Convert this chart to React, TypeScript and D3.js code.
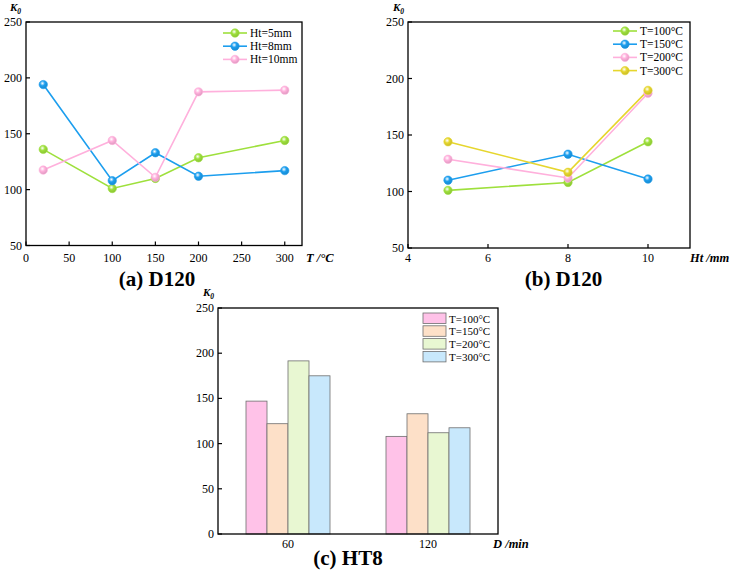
import React from "react";
import * as d3 from "d3";

// (a) K0 vs temperature, D120
const tempX = [20, 100, 150, 200, 300];
const ht5 = [136, 101, 110, 128.5, 144];
const ht8 = [194, 108, 133, 112, 117];
const ht10 = [117.5, 144, 111, 187.5, 189];
const aLabels = ["Ht=5mm", "Ht=8mm", "Ht=10mm"];
const aTicksX = [0, 50, 100, 150, 200, 250, 300];

// (b) K0 vs Ht, D120
const htX = [5, 8, 10];
const t100 = [101, 108, 144];
const t150 = [110, 133, 111];
const t200 = [128.5, 112, 187];
const t300 = [144, 117, 189.5];
const bLabels = ["T=100°C", "T=150°C", "T=200°C", "T=300°C"];
const bTicksX = [4, 6, 8, 10];

// (c) K0 vs duration, HT8
const durations = ["60", "120"];
const barT100 = [147, 108];
const barT150 = [122, 133];
const barT200 = [191.5, 112];
const barT300 = [175, 117.5];
const cLabels = ["T=100°C", "T=150°C", "T=200°C", "T=300°C"];

const yTicks = [50, 100, 150, 200, 250];
const yTicksC = [0, 50, 100, 150, 200, 250];

const green = "#9ee03c";
const blue = "#1c9eee";
const pink = "#ffb0dc";
const yellow = "#e6d62e";
const barColors = ["#ffc2e8", "#fde0c8", "#e8f7d2", "#c8e8fc"];

const serif = "'Liberation Serif', 'Times New Roman', serif";

type Series = { label: string; color: string; values: number[] };

function Marker({ cx, cy, color, id }: { cx: number; cy: number; color: string; id: string }) {
  return <circle cx={cx} cy={cy} r={4.2} fill={`url(#${id})`} stroke={color} strokeWidth={0.6} />;
}

function K0({ x, y }: { x: number; y: number }) {
  return (
    <text x={x} y={y} fontSize={11} fontStyle="italic" fontWeight="bold" fontFamily={serif}>
      K<tspan fontSize={7.5} dy={2.5}>0</tspan>
    </text>
  );
}

function LineChart(props: {
  x0: number; x1: number; y0: number; y1: number;
  xDomain: [number, number]; xs: number[]; xTicks: number[];
  series: Series[]; legendX: number; legendY: number;
  xLabel: React.ReactNode; xLabelX: number; prefix: string;
  k0X: number; labelY: number;
}) {
  const { x0, x1, y0, y1, xDomain, xs, xTicks, series, legendX, legendY, prefix, labelY } = props;
  const x = d3.scaleLinear().domain(xDomain).range([x0, x1]);
  const y = d3.scaleLinear().domain([50, 250]).range([y1, y0]);
  const line = d3.line<number>().x((_, i) => x(xs[i])).y((d) => y(d));
  return (
    <g fontFamily={serif}>
      <defs>
        {series.map((s, i) => (
          <radialGradient key={i} id={`${prefix}g${i}`} cx="0.4" cy="0.35" r="0.65">
            <stop offset="0" stopColor="#ffffff" />
            <stop offset="0.45" stopColor={s.color} />
            <stop offset="1" stopColor={d3.color(s.color)!.darker(0.4).toString()} />
          </radialGradient>
        ))}
      </defs>
      <rect x={x0} y={y0} width={x1 - x0} height={y1 - y0} fill="none" stroke="#000" strokeWidth={1.3} />
      {xTicks.map((t) => (
        <g key={t}>
          <line x1={x(t)} x2={x(t)} y1={y1} y2={y1 - 4} stroke="#000" strokeWidth={1.2} />
          <text x={x(t)} y={labelY} textAnchor="middle" fontSize={12}>{t}</text>
        </g>
      ))}
      {yTicks.map((t) => (
        <g key={t}>
          <line x1={x0} x2={x0 + 4} y1={y(t)} y2={y(t)} stroke="#000" strokeWidth={1.2} />
          <text x={x0 - 4} y={y(t) + 4} textAnchor="end" fontSize={12}>{t}</text>
        </g>
      ))}
      {series.map((s, i) => (
        <path key={i} d={line(s.values) ?? ""} fill="none" stroke={s.color} strokeWidth={1.6} />
      ))}
      {series.map((s, i) =>
        s.values.map((v, j) => (
          <Marker key={`${i}-${j}`} cx={x(xs[j])} cy={y(v)} color={s.color} id={`${prefix}g${i}`} />
        ))
      )}
      {series.map((s, i) => (
        <g key={i} transform={`translate(${legendX},${legendY + i * 13.2})`}>
          <line x1={0} x2={24} y1={0} y2={0} stroke={s.color} strokeWidth={1.6} />
          <Marker cx={12} cy={0} color={s.color} id={`${prefix}g${i}`} />
          <text x={27} y={4} fontSize={11.5}>{s.label}</text>
        </g>
      ))}
      <K0 x={props.k0X} y={11} />
      <text x={props.xLabelX} y={labelY} fontSize={12.5} fontStyle="italic" fontWeight="bold">{props.xLabel}</text>
    </g>
  );
}

function BarChart() {
  const x0 = 218, x1 = 498, y0 = 308, y1 = 534;
  const x = d3.scaleBand().domain(durations).range([x0, x1]).paddingInner(0.4).paddingOuter(0.2);
  const sub = d3.scaleBand().domain(cLabels).range([0, x.bandwidth()]);
  const y = d3.scaleLinear().domain([0, 250]).range([y1, y0]);
  const groups = [barT100, barT150, barT200, barT300];
  return (
    <g fontFamily={serif}>
      {groups.map((vals, k) =>
        vals.map((v, i) => (
          <rect key={`${k}-${i}`} x={(x(durations[i]) ?? 0) + (sub(cLabels[k]) ?? 0)} y={y(v)}
            width={sub.bandwidth()} height={y(0) - y(v)} fill={barColors[k]} stroke="#6e6e6e" strokeWidth={0.8} />
        ))
      )}
      <rect x={x0} y={y0} width={x1 - x0} height={y1 - y0} fill="none" stroke="#000" strokeWidth={1.3} />
      {yTicksC.map((t) => (
        <g key={t}>
          <line x1={x0} x2={x0 + 4} y1={y(t)} y2={y(t)} stroke="#000" strokeWidth={1.2} />
          <text x={x0 - 4} y={y(t) + 4} textAnchor="end" fontSize={12}>{t}</text>
        </g>
      ))}
      {durations.map((d) => (
        <text key={d} x={(x(d) ?? 0) + x.bandwidth() / 2} y={548} textAnchor="middle" fontSize={12}>{d}</text>
      ))}
      {cLabels.map((l, k) => (
        <g key={l} transform={`translate(423,${313 + k * 12.8})`}>
          <rect x={0} y={0} width={23} height={10.5} fill={barColors[k]} stroke="#6e6e6e" strokeWidth={0.8} />
          <text x={26} y={9.5} fontSize={11}>{l}</text>
        </g>
      ))}
      <K0 x={203} y={296} />
      <text x={493} y={548} fontSize={12.5} fontStyle="italic" fontWeight="bold">D /min</text>
      <text x={348} y={565} textAnchor="middle" fontSize={21} fontWeight="bold">(c) HT8</text>
    </g>
  );
}

export default function App() {
  const aSeries: Series[] = [
    { label: aLabels[0], color: green, values: ht5 },
    { label: aLabels[1], color: blue, values: ht8 },
    { label: aLabels[2], color: pink, values: ht10 },
  ];
  const bSeries: Series[] = [
    { label: bLabels[0], color: green, values: t100 },
    { label: bLabels[1], color: blue, values: t150 },
    { label: bLabels[2], color: pink, values: t200 },
    { label: bLabels[3], color: yellow, values: t300 },
  ];
  return (
    <svg width={731} height={570} style={{ position: "absolute", left: 0, top: 0, background: "#fff" }}>
      <rect width={731} height={570} fill="#fff" />
      <LineChart x0={26} x1={302} y0={22} y1={245.5} xDomain={[0, 320]} xs={tempX} xTicks={aTicksX}
        series={aSeries} legendX={223} legendY={33} xLabel="T /°C" xLabelX={306} prefix="a" k0X={10} labelY={262} />
      <LineChart x0={408} x1={690} y0={22} y1={248} xDomain={[4, 11.05]} xs={htX} xTicks={bTicksX}
        series={bSeries} legendX={613} legendY={31} xLabel="Ht /mm" xLabelX={690} prefix="b" k0X={393} labelY={262} />
      <text x={157} y={286} textAnchor="middle" fontSize={21} fontWeight="bold" fontFamily={serif}>(a) D120</text>
      <text x={563.5} y={286} textAnchor="middle" fontSize={21} fontWeight="bold" fontFamily={serif}>(b) D120</text>
      <BarChart />
    </svg>
  );
}
